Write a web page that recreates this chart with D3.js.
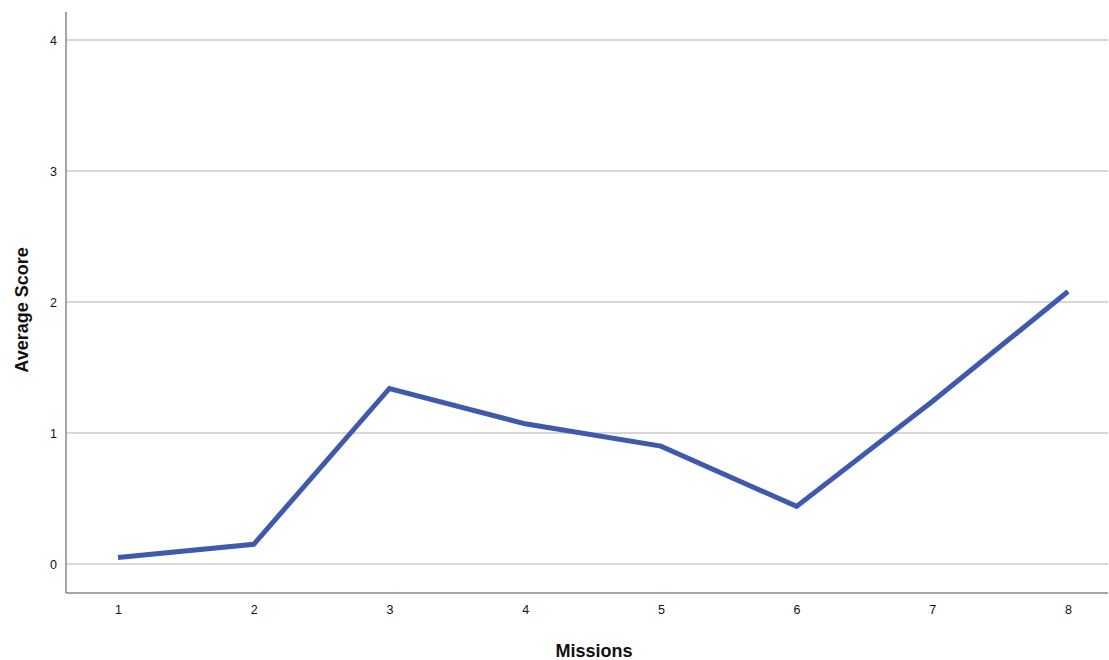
<!DOCTYPE html>
<html><head><meta charset="utf-8">
<script src="https://cdn.jsdelivr.net/npm/d3@7"></script>
<style>body{margin:0;background:#fff;} svg{display:block;font-family:Arial, "Liberation Sans", sans-serif;}</style>
</head><body>
<svg id="c" width="1109" height="660"></svg>
<script>
const missions = [1, 2, 3, 4, 5, 6, 7, 8];
const scores = [0.05, 0.15, 1.34, 1.07, 0.90, 0.44, 1.24, 2.08];
const yTicks = [0, 1, 2, 3, 4];

(function () {
const svg = d3.select("#c");
const mLeft = 66, mRight = 1108, mTop = 12, mBottom = 593;
const x = d3.scaleLinear().domain([1, 8]).range([118, 1068]);
const y = d3.scaleLinear().domain([0, 4]).range([564, 40]);

// gridlines
svg.append("g").selectAll("line").data(yTicks).join("line")
  .attr("x1", mLeft).attr("x2", mRight)
  .attr("y1", d => y(d)).attr("y2", d => y(d))
  .attr("stroke", "#b0b0b0").attr("stroke-width", 1.2);

// y axis
const ya = svg.append("g").attr("transform", `translate(${mLeft},0)`)
  .call(d3.axisLeft(y).tickValues(yTicks).tickSize(0).tickPadding(9).tickFormat(d3.format("d")));
ya.select(".domain").remove();
ya.selectAll("text").attr("font-size", 12.5).attr("fill", "#111");

// x axis
const xa = svg.append("g").attr("transform", `translate(0,${mBottom})`)
  .call(d3.axisBottom(x).tickValues(missions).tickSize(0).tickPadding(12).tickFormat(d3.format("d")));
xa.select(".domain").remove();
xa.selectAll("text").attr("font-size", 12.5).attr("fill", "#111");

// axis lines
svg.append("line").attr("x1", mLeft).attr("x2", mLeft).attr("y1", mTop).attr("y2", mBottom)
  .attr("stroke", "#888").attr("stroke-width", 1.5);
svg.append("line").attr("x1", mLeft).attr("x2", mRight).attr("y1", mBottom).attr("y2", mBottom)
  .attr("stroke", "#888").attr("stroke-width", 1.5);

// line
svg.append("path").datum(missions.map((m, i) => [m, scores[i]]))
  .attr("d", d3.line().x(d => x(d[0])).y(d => y(d[1])))
  .attr("fill", "none").attr("stroke", "#3f5aad").attr("stroke-width", 5)
  .attr("stroke-linejoin", "miter");

// axis titles
svg.append("text").attr("x", 594).attr("y", 657).attr("text-anchor", "middle")
  .attr("font-size", 18).attr("font-weight", "bold").attr("fill", "#111").text("Missions");
svg.append("text").attr("transform", "translate(28,310) rotate(-90)").attr("text-anchor", "middle")
  .attr("font-size", 18).attr("font-weight", "bold").attr("fill", "#111").text("Average Score");
})();
</script>
</body></html>
